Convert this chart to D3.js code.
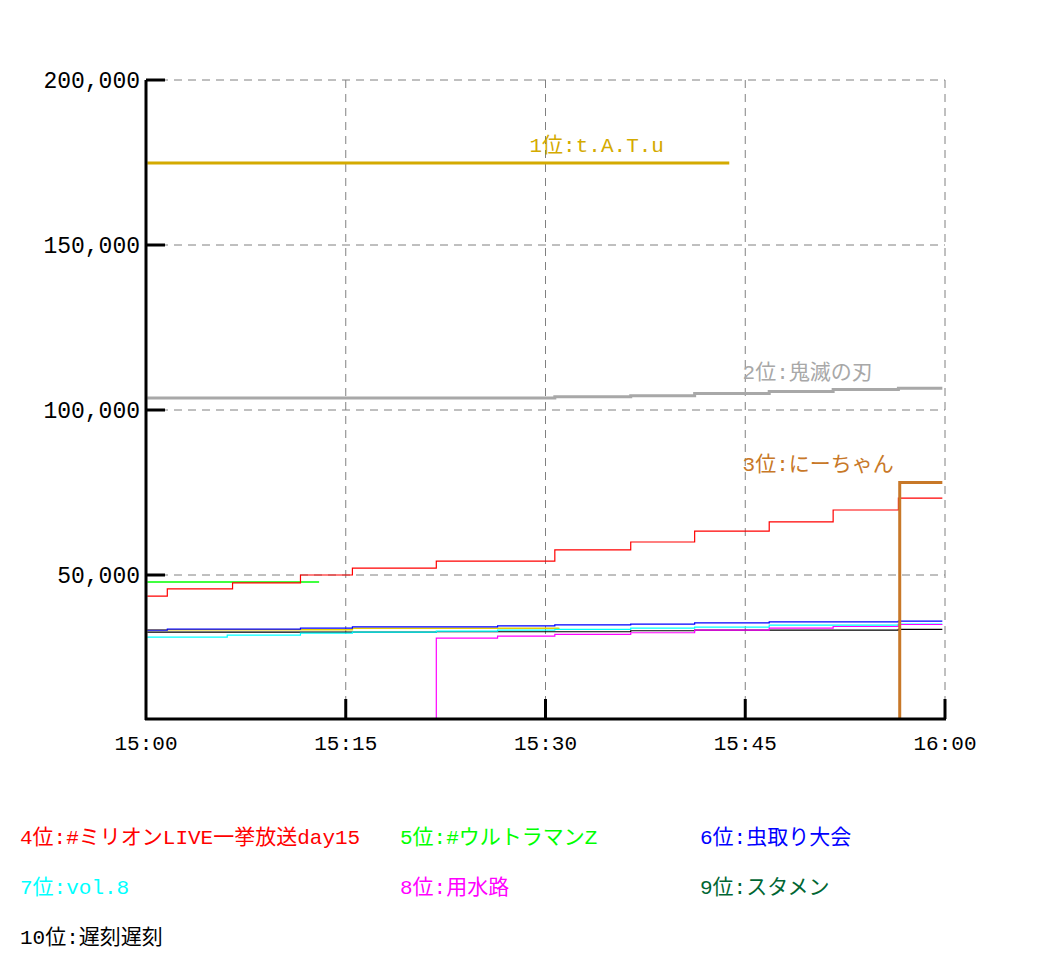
<!DOCTYPE html>
<html><head><meta charset="utf-8">
<script src="https://cdn.jsdelivr.net/npm/d3@7"></script>
<style>body{margin:0;background:#fff}</style>
</head><body>
<svg width="1045" height="975"></svg>
<script>
// minutes after 15:00 -> value
const rank1 = [[0.1, 174850], [43.8, 174850]];
const rank2 = [[0.1, 103600], [30.7, 104000], [36.4, 104300], [41.2, 105000], [46.8, 105600], [51.6, 106200], [56.5, 106600], [59.8, 106600]];
const rank3 = [[56.4, 0], [56.6, 78000], [59.8, 78000]];
const rank4 = [[0.1, 43600], [1.6, 45800], [6.5, 47600], [11.6, 50000], [15.5, 52100], [21.8, 54200], [30.7, 57600], [36.4, 60000], [41.2, 63300], [46.8, 66100], [51.6, 69700], [56.5, 73300], [59.8, 73300]];
const rank5 = [[0.1, 47900], [13, 47900]];
const rank6 = [[0.1, 33300], [1.6, 33600], [11.6, 33900], [15.5, 34300], [26.4, 34600], [30.7, 34900], [36.4, 35100], [41.2, 35500], [46.8, 35800], [56.5, 36000], [59.8, 36000]];
const rank7 = [[0.1, 31200], [6.1, 31800], [11.6, 32400], [15.5, 32700], [21.8, 33000], [26.4, 33300], [30.7, 33500], [36.4, 33900], [41.2, 34200], [46.8, 34800], [56.5, 35100], [59.8, 35100]];
const rank8 = [[21.6, 0], [21.8, 30900], [26.4, 31500], [30.7, 32000], [36.4, 32500], [41.2, 33300], [46.8, 33900], [51.6, 34400], [56.5, 35000], [59.8, 35000]];
const rank10 = [[0.1, 32700], [21.8, 32800], [36.4, 33100], [41.2, 33300], [56.5, 33500], [59.8, 33500]];
const yellowLine = [[0.1, 33400], [15.5, 33900], [31, 34000]];

const series = [
  {data: yellowLine, color: '#e8d000', w: 1.5},
  {data: rank10, color: '#000', w: 1.2},
  {data: rank7, color: '#00ffff', w: 1.2},
  {data: rank8, color: '#ff00ff', w: 1.2},
  {data: rank6, color: '#0000ff', w: 1.2},
  {data: rank5, color: '#00ff00', w: 1.5},
  {data: rank4, color: '#ff0000', w: 1.2},
  {data: rank3, color: '#c87828', w: 3},
  {data: rank2, color: '#a8a8a8', w: 3},
  {data: rank1, color: '#d4aa00', w: 3}
];
const topLabels = [
  {text: '1位:t.A.T.u', t: 28.8, v: 178200, color: '#d4aa00'},
  {text: '2位:鬼滅の刃', t: 44.8, v: 109400, color: '#a8a8a8'},
  {text: '3位:にーちゃん', t: 44.8, v: 81500, color: '#c87828'}
];
const legend = [
  ['4位:#ミリオンLIVE一挙放送day15', '#ff0000'], ['5位:#ウルトラマンZ', '#00ff00'], ['6位:虫取り大会', '#0000ff'],
  ['7位:vol.8', '#00ffff'], ['8位:用水路', '#ff00ff'], ['9位:スタメン', '#006633'],
  ['10位:遅刻遅刻', '#000']
];
const xTicks = [0, 15, 30, 45, 60];
const xTickLabels = ['15:00', '15:15', '15:30', '15:45', '16:00'];
const yTicks = [50000, 100000, 150000, 200000];

const font = '"Liberation Mono", "Noto Sans CJK JP", monospace';
const svg = d3.select('svg');
const x = d3.scaleLinear().domain([0, 60]).range([146, 945]);
const y = d3.scaleLinear().domain([6364, 200000]).range([719, 80]);

svg.append('defs').append('clipPath').attr('id', 'clip')
  .append('rect').attr('x', 146).attr('y', 80).attr('width', 799).attr('height', 639);

// grid
const grid = svg.append('g').attr('stroke', '#808080').attr('stroke-dasharray', '8,6').attr('stroke-width', 1);
grid.selectAll('line.h').data(yTicks).join('line')
  .attr('x1', 146).attr('x2', 945).attr('y1', d => y(d)).attr('y2', d => y(d));
grid.selectAll('line.v').data(xTicks.slice(1)).join('line')
  .attr('y1', 80).attr('y2', 719).attr('x1', d => x(d)).attr('x2', d => x(d));

// lines
const line = d3.line().curve(d3.curveStepAfter).x(d => x(d[0])).y(d => y(d[1]));
svg.append('g').attr('clip-path', 'url(#clip)').selectAll('path').data(series).join('path')
  .attr('fill', 'none').attr('stroke', d => d.color).attr('stroke-width', d => d.w)
  .attr('d', d => line(d.data));

// axes
const axes = svg.append('g').attr('stroke', '#000').attr('stroke-width', 3);
axes.append('line').attr('x1', 146).attr('x2', 146).attr('y1', 80).attr('y2', 720);
axes.append('line').attr('x1', 145).attr('x2', 946).attr('y1', 719).attr('y2', 719);
axes.selectAll('line.yt').data(yTicks).join('line')
  .attr('x1', 146).attr('x2', 165).attr('y1', d => y(d)).attr('y2', d => y(d));
axes.selectAll('line.xt').data(xTicks.slice(1)).join('line')
  .attr('x1', d => x(d)).attr('x2', d => x(d)).attr('y1', 719).attr('y2', 699);

const fmt = d3.format(',');
svg.append('g').selectAll('text').data(yTicks).join('text')
  .attr('x', 140).attr('y', d => y(d) + 8).attr('text-anchor', 'end')
  .attr('font-family', font).attr('font-size', 23).text(d => fmt(d));
svg.append('g').selectAll('text').data(xTicks).join('text')
  .attr('x', d => x(d)).attr('y', 750).attr('text-anchor', 'middle')
  .attr('font-family', font).attr('font-size', 21).text((d, i) => xTickLabels[i]);

svg.append('g').selectAll('text').data(topLabels).join('text')
  .attr('x', d => x(d.t)).attr('y', d => y(d.v)).attr('fill', d => d.color)
  .attr('font-family', font).attr('font-size', 21).text(d => d.text);

const legX = [20, 400, 700];
svg.append('g').selectAll('text').data(legend).join('text')
  .attr('x', (d, i) => legX[i % 3]).attr('y', (d, i) => 844 + Math.floor(i / 3) * 50)
  .attr('fill', d => d[1]).attr('font-family', font).attr('font-size', 21).text(d => d[0]);
</script>
</body></html>
